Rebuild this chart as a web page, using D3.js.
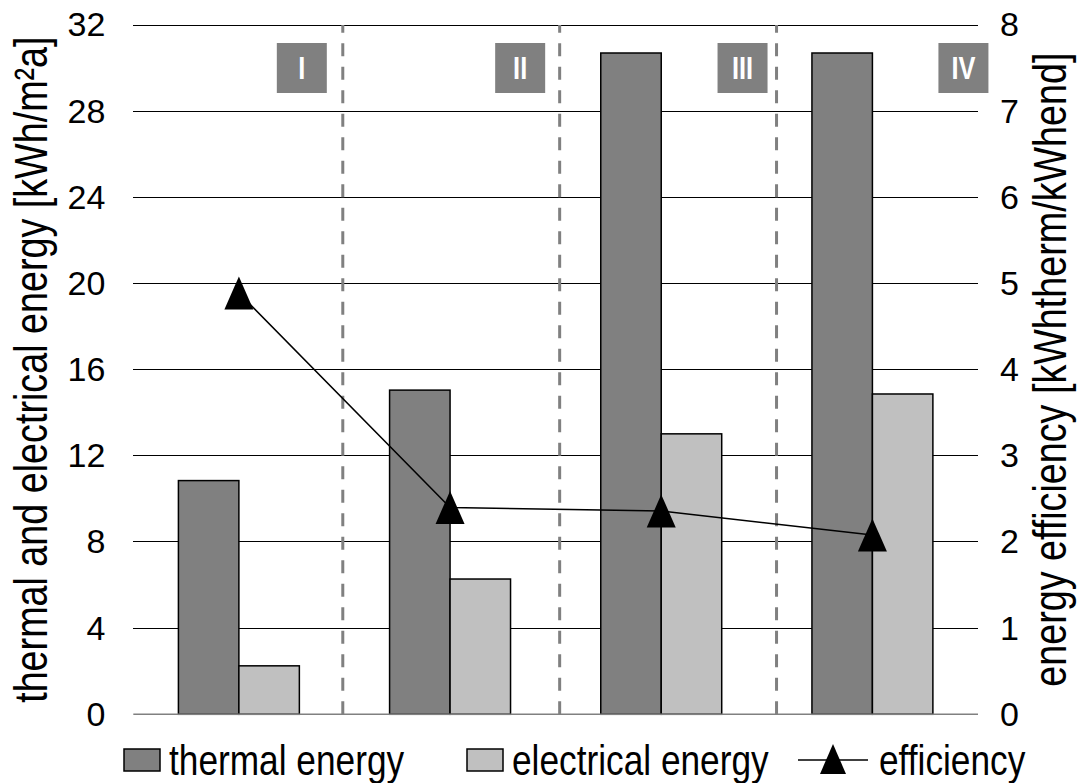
<!DOCTYPE html>
<html>
<head>
<meta charset="utf-8">
<script src="https://cdn.jsdelivr.net/npm/d3@7"></script>
<style>
  html, body { margin: 0; padding: 0; background: #fff; }
  svg { display: block; }
</style>
</head>
<body>
<div id="chart"></div>
<script>
// ---- data ----
const categories = ["I", "II", "III", "IV"];
const thermalEnergy = [10.85, 15.05, 30.7, 30.7];
const electricalEnergy = [2.25, 6.28, 13.02, 14.87];
const efficiency = [4.89, 2.40, 2.36, 2.08];
const leftTicks = [0, 4, 8, 12, 16, 20, 24, 28, 32];
const rightTicks = [0, 1, 2, 3, 4, 5, 6, 7, 8];
const seriesNames = ["thermal energy", "electrical energy", "efficiency"];
const leftTitle = "thermal and electrical energy [kWh/m²a]";
const rightTitle = "energy efficiency [kWhtherm/kWhend]";
// period separators and period label boxes, in category-index units
const dividerIdx = [0.992, 2.019, 3.046];
const periodLabelIdx = [0.798, 1.832, 2.885, 3.931];

// ---- layout ----
const W = 1079, H = 783;
const margin = { top: 25, right: 101, bottom: 68.7, left: 133.3 };
const innerW = W - margin.left - margin.right;
const innerH = H - margin.top - margin.bottom;
const colors = { thermal: "#808080", electrical: "#c0c0c0" };
const FONT = "Liberation Sans, Arial, sans-serif";
const NARROW = 0.82; // emulate Arial Narrow

const svg = d3.select("#chart").append("svg").attr("width", W).attr("height", H);
const g = svg.append("g").attr("transform", `translate(${margin.left},${margin.top})`);

const x = d3.scaleBand().domain(categories).range([0, innerW]).paddingInner(0).paddingOuter(0);
const xSub = d3.scaleBand().domain(["thermal", "electrical"]).range([0, x.bandwidth()]).paddingInner(0).paddingOuter(0.746);
const xIdx = d3.scaleLinear().domain([0, 4]).range([0, innerW]);
const yL = d3.scaleLinear().domain([0, 32]).range([innerH, 0]);
const yR = d3.scaleLinear().domain([0, 8]).range([innerH, 0]);

// gridlines
g.append("g").selectAll("line").data(leftTicks.filter(d => d > 0)).join("line")
  .attr("x1", 0).attr("x2", innerW)
  .attr("y1", d => yL(d)).attr("y2", d => yL(d))
  .attr("stroke", "#000").attr("stroke-width", 1).attr("shape-rendering", "crispEdges");

// left axis labels
const axL = g.append("g").call(d3.axisLeft(yL).tickValues(leftTicks).tickSize(0).tickPadding(28).tickFormat(d3.format("d")));
axL.select(".domain").remove();
axL.selectAll("text").attr("font-family", FONT).attr("font-size", 34).attr("fill", "#000");

// right axis labels
const axR = g.append("g").attr("transform", `translate(${innerW},0)`)
  .call(d3.axisRight(yR).tickValues(rightTicks).tickSize(0).tickPadding(22).tickFormat(d3.format("d")));
axR.select(".domain").remove();
axR.selectAll("text").attr("font-family", FONT).attr("font-size", 34).attr("fill", "#000");

// dividers
g.append("g").selectAll("line").data(dividerIdx).join("line")
  .attr("x1", d => xIdx(d)).attr("x2", d => xIdx(d))
  .attr("y1", innerH).attr("y2", 0)
  .attr("stroke", "#808080").attr("stroke-width", 3).attr("stroke-dasharray", "13,10.5");

// bars
const groups = g.append("g").selectAll("g").data(categories).join("g")
  .attr("transform", d => `translate(${x(d)},0)`);
groups.append("rect")
  .attr("x", xSub("thermal")).attr("width", xSub.bandwidth())
  .attr("y", (d, i) => yL(thermalEnergy[i])).attr("height", (d, i) => innerH - yL(thermalEnergy[i]))
  .attr("fill", colors.thermal).attr("stroke", "#000").attr("stroke-width", 1.5);
groups.append("rect")
  .attr("x", xSub("electrical")).attr("width", xSub.bandwidth())
  .attr("y", (d, i) => yL(electricalEnergy[i])).attr("height", (d, i) => innerH - yL(electricalEnergy[i]))
  .attr("fill", colors.electrical).attr("stroke", "#000").attr("stroke-width", 1.5);

// baseline
g.append("line").attr("x1", 0).attr("x2", innerW).attr("y1", yL(0)).attr("y2", yL(0))
  .attr("stroke", "#808080").attr("stroke-width", 1.5);

// period label boxes
const boxSize = 50;
const pl = g.append("g").selectAll("g").data(categories).join("g")
  .attr("transform", (d, i) => `translate(${xIdx(periodLabelIdx[i])},${43 - margin.top + boxSize / 2})`);
pl.append("rect").attr("x", -boxSize / 2).attr("y", -boxSize / 2).attr("width", boxSize).attr("height", boxSize)
  .attr("fill", "#808080");
pl.append("text").text(d => d).attr("text-anchor", "middle").attr("dy", "0.36em")
  .attr("transform", `scale(${NARROW},1)`)
  .attr("font-family", FONT).attr("font-weight", "bold")
  .attr("font-size", 31).attr("fill", "#fff");

// efficiency line
const cx = d => x(d) + x.bandwidth() / 2;
const line = d3.line().x(d => cx(d)).y((d, i) => yR(efficiency[i]));
g.append("path").datum(categories).attr("d", line)
  .attr("fill", "none").attr("stroke", "#000").attr("stroke-width", 1.5);
const tri = (w, h) => `M0,${-h / 2}L${w / 2},${h / 2}L${-w / 2},${h / 2}Z`;
g.append("g").selectAll("path").data(categories).join("path")
  .attr("transform", (d, i) => `translate(${cx(d)},${yR(efficiency[i])})`)
  .attr("d", tri(29, 33)).attr("fill", "#000");

// axis titles
const midY = margin.top + innerH / 2;
svg.append("text").text(leftTitle)
  .attr("transform", `translate(47,${midY}) rotate(-90) scale(${NARROW},1)`)
  .attr("text-anchor", "middle")
  .attr("font-family", FONT).attr("font-size", 46).attr("fill", "#000");
svg.append("text").text(rightTitle)
  .attr("transform", `translate(1066,${midY}) rotate(-90) scale(${NARROW},1)`)
  .attr("text-anchor", "middle")
  .attr("font-family", FONT).attr("font-size", 46).attr("fill", "#000");

// legend
const legendY = 760;
const leg = svg.append("g").attr("font-family", FONT).attr("font-size", 43);
const legItems = [
  { x: 124, type: "rect", fill: colors.thermal, label: seriesNames[0] },
  { x: 467, type: "rect", fill: colors.electrical, label: seriesNames[1] },
  { x: 798, type: "line", label: seriesNames[2] }
];
legItems.forEach(it => {
  const gg = leg.append("g").attr("transform", `translate(${it.x},${legendY})`);
  if (it.type === "rect") {
    gg.append("rect").attr("x", 0).attr("y", -11).attr("width", 36).attr("height", 22)
      .attr("fill", it.fill).attr("stroke", "#000").attr("stroke-width", 1.5);
    gg.append("text").text(it.label).attr("transform", `translate(45,0) scale(${NARROW},1)`)
      .attr("dy", "0.36em").attr("fill", "#000");
  } else {
    gg.append("line").attr("x1", 0).attr("x2", 70).attr("y1", 0).attr("y2", 0).attr("stroke", "#000").attr("stroke-width", 1.5);
    gg.append("path").attr("transform", "translate(35,-1)").attr("d", tri(26, 30)).attr("fill", "#000");
    gg.append("text").text(it.label).attr("transform", `translate(81,0) scale(${NARROW},1)`)
      .attr("dy", "0.36em").attr("fill", "#000");
  }
});
</script>
</body>
</html>
